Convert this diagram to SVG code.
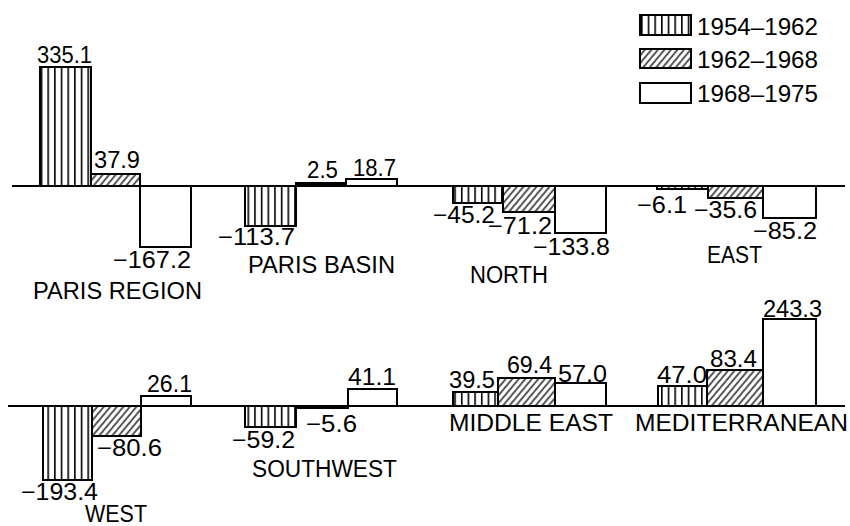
<svg xmlns="http://www.w3.org/2000/svg" width="850" height="526" viewBox="0 0 850 526">
<style>
text{font-family:"Liberation Sans",Arial,sans-serif;font-size:23px;fill:#000}
.lab{font-size:23px}
.bar{stroke:#000;stroke-width:2}
.s{fill:url(#stripes)}
.h{fill:url(#hatch)}
.w{fill:#fff}
.k{fill:#000}
.axis{stroke:#000;stroke-width:2}
</style>
<defs>
<pattern id="stripes" patternUnits="userSpaceOnUse" width="6.67" height="10" x="0.7">
<rect width="6.67" height="10" fill="#fff"/>
<line x1="0.7" y1="0" x2="0.7" y2="10" stroke="#000" stroke-width="1.8"/>
</pattern>
<pattern id="hatch" patternUnits="userSpaceOnUse" width="5" height="10" patternTransform="rotate(40)">
<rect width="5" height="10" fill="#fff"/>
<line x1="1" y1="0" x2="1" y2="10" stroke="#000" stroke-width="1.3"/>
</pattern>
</defs>
<rect width="850" height="526" fill="#fff"/>
<g id="connectors">
<line class="axis" x1="12" y1="186" x2="845" y2="186"/>
<line class="axis" x1="8" y1="406" x2="845" y2="406"/>
</g>
<g id="legend">
<rect class="bar s" x="640" y="15" width="51" height="20"/>
<rect class="bar h" x="640" y="49" width="51" height="19"/>
<rect class="bar w" x="640" y="83" width="51" height="20"/>
<text x="697" y="35" textLength="121" lengthAdjust="spacingAndGlyphs">1954–1962</text>
<text x="697" y="68" textLength="121" lengthAdjust="spacingAndGlyphs">1962–1968</text>
<text x="697" y="102" textLength="121" lengthAdjust="spacingAndGlyphs">1968–1975</text>
</g>
<g id="paris-region">
<rect class="bar s" x="40" y="67" width="51" height="119"/>
<rect class="bar h" x="91" y="174" width="49" height="12"/>
<rect class="bar w" x="140" y="186" width="51" height="61"/>
<text x="37" y="63" textLength="55" lengthAdjust="spacingAndGlyphs">335.1</text>
<text x="94" y="168" textLength="46" lengthAdjust="spacingAndGlyphs">37.9</text>
<text x="113" y="268" textLength="78" lengthAdjust="spacingAndGlyphs">−167.2</text>
<text class="lab" x="33" y="299" textLength="169" lengthAdjust="spacingAndGlyphs">PARIS REGION</text>
</g>
<g id="paris-basin">
<rect class="bar s" x="245" y="186" width="51" height="40"/>
<rect class="bar k" x="296" y="183" width="50" height="3"/>
<rect class="bar w" x="346" y="179" width="51" height="7"/>
<text x="218" y="245" textLength="77" lengthAdjust="spacingAndGlyphs">−113.7</text>
<text x="307" y="178" textLength="31" lengthAdjust="spacingAndGlyphs">2.5</text>
<text x="353" y="176" textLength="43" lengthAdjust="spacingAndGlyphs">18.7</text>
<text class="lab" x="248" y="273" textLength="147" lengthAdjust="spacingAndGlyphs">PARIS BASIN</text>
</g>
<g id="north">
<rect class="bar s" x="453" y="186" width="50" height="17"/>
<rect class="bar h" x="503" y="186" width="52" height="26"/>
<rect class="bar w" x="555" y="186" width="51" height="47"/>
<text x="433" y="223" textLength="62" lengthAdjust="spacingAndGlyphs">−45.2</text>
<text x="488" y="234" textLength="64" lengthAdjust="spacingAndGlyphs">−71.2</text>
<text x="533" y="255" textLength="77" lengthAdjust="spacingAndGlyphs">−133.8</text>
<text class="lab" x="470" y="283" textLength="78" lengthAdjust="spacingAndGlyphs">NORTH</text>
</g>
<g id="east">
<rect class="bar s" x="657" y="186" width="51" height="3"/>
<rect class="bar h" x="708" y="186" width="55" height="12"/>
<rect class="bar w" x="763" y="186" width="53" height="32"/>
<text x="637" y="213" textLength="50" lengthAdjust="spacingAndGlyphs">−6.1</text>
<text x="694" y="218" textLength="63" lengthAdjust="spacingAndGlyphs">−35.6</text>
<text x="753" y="239" textLength="64" lengthAdjust="spacingAndGlyphs">−85.2</text>
<text class="lab" x="707" y="263" textLength="55" lengthAdjust="spacingAndGlyphs">EAST</text>
</g>
<g id="west">
<rect class="bar s" x="43" y="406" width="49" height="74"/>
<rect class="bar h" x="92" y="406" width="49" height="30"/>
<rect class="bar w" x="141" y="396" width="50" height="10"/>
<text x="147" y="392" textLength="45" lengthAdjust="spacingAndGlyphs">26.1</text>
<text x="97" y="456" textLength="65" lengthAdjust="spacingAndGlyphs">−80.6</text>
<text x="21" y="500" textLength="77" lengthAdjust="spacingAndGlyphs">−193.4</text>
<text class="lab" x="85" y="522" textLength="62" lengthAdjust="spacingAndGlyphs">WEST</text>
</g>
<g id="southwest">
<rect class="bar s" x="245" y="406" width="51" height="21"/>
<rect class="bar k" x="296" y="406" width="52" height="2"/>
<rect class="bar w" x="348" y="389" width="49" height="17"/>
<text x="232" y="448" textLength="63" lengthAdjust="spacingAndGlyphs">−59.2</text>
<text x="306" y="432" textLength="51" lengthAdjust="spacingAndGlyphs">−5.6</text>
<text x="348" y="385" textLength="48" lengthAdjust="spacingAndGlyphs">41.1</text>
<text class="lab" x="252" y="477" textLength="145" lengthAdjust="spacingAndGlyphs">SOUTHWEST</text>
</g>
<g id="middle-east">
<rect class="bar s" x="453" y="392" width="45" height="14"/>
<rect class="bar h" x="498" y="378" width="57" height="28"/>
<rect class="bar w" x="555" y="383" width="51" height="23"/>
<text x="449" y="388" textLength="46" lengthAdjust="spacingAndGlyphs">39.5</text>
<text x="507" y="373" textLength="45" lengthAdjust="spacingAndGlyphs">69.4</text>
<text x="558" y="382" textLength="49" lengthAdjust="spacingAndGlyphs">57.0</text>
<text class="lab" x="449" y="431" textLength="164" lengthAdjust="spacingAndGlyphs">MIDDLE EAST</text>
</g>
<g id="mediterranean">
<rect class="bar s" x="658" y="386" width="49" height="20"/>
<rect class="bar h" x="707" y="370" width="56" height="36"/>
<rect class="bar w" x="763" y="319" width="53" height="87"/>
<text x="657" y="383" textLength="50" lengthAdjust="spacingAndGlyphs">47.0</text>
<text x="710" y="367" textLength="47" lengthAdjust="spacingAndGlyphs">83.4</text>
<text x="763" y="317" textLength="59" lengthAdjust="spacingAndGlyphs">243.3</text>
<text class="lab" x="635" y="431" textLength="213" lengthAdjust="spacingAndGlyphs">MEDITERRANEAN</text>
</g>
</svg>
